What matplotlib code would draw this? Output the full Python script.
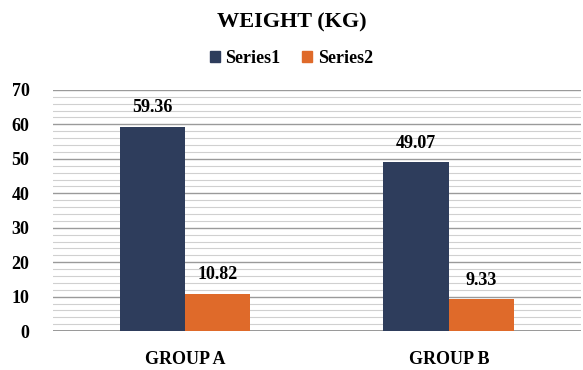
import matplotlib
matplotlib.use("Agg")
import matplotlib.pyplot as plt
from matplotlib.patches import Patch
import numpy as np

categories = ["GROUP A", "GROUP B"]
series1 = [59.36, 49.07]
series2 = [10.82, 9.33]
series_names = ["Series1", "Series2"]
y_ticks = [0, 10, 20, 30, 40, 50, 60, 70]

navy = "#2E3D5C"
orange = "#DF6A2A"

plt.rcParams["font.family"] = ["Liberation Serif", "DejaVu Serif"]
plt.rcParams["font.weight"] = "bold"

fig = plt.figure(figsize=(5.83, 3.70), dpi=100)
ax = fig.add_axes([0.091, 0.105, 0.905, 0.652])

x = np.arange(len(categories))
w = 0.248
b1 = ax.bar(x - w / 2, series1, width=w, color=navy, zorder=3)
b2 = ax.bar(x + w / 2, series2, width=w, color=orange, zorder=3)

for bars, vals in ((b1, series1), (b2, series2)):
    for rect, v in zip(bars, vals):
        ax.text(rect.get_x() + rect.get_width() / 2, v + 5.5, f"{v:.2f}",
                ha="center", va="center", fontsize=13, fontweight="bold")

ax.set_xlim(-0.5, 1.5)
ax.set_ylim(0, 70)
ax.set_yticks(y_ticks)
ax.set_yticks(np.arange(0, 71, 2), minor=True)
ax.grid(axis="y", which="major", color="#9a9a9a", linewidth=1.0, zorder=0)
ax.grid(axis="y", which="minor", color="#d0d0d0", linewidth=0.8, zorder=0)
ax.axhline(0, color="#8a8a8a", linewidth=1.2, zorder=2)
for s in ax.spines.values():
    s.set_visible(False)
ax.tick_params(axis="both", which="both", length=0)
ax.tick_params(axis="y", pad=17, labelsize=13)
ax.tick_params(axis="x", pad=14, labelsize=13)
ax.set_xticks(x)
ax.set_xticklabels(categories)
for lbl in ax.get_xticklabels() + ax.get_yticklabels():
    lbl.set_fontweight("bold")

fig.text(0.5, 0.938, "WEIGHT (KG)", ha="center", va="center",
         fontsize=16, fontweight="bold")
handles = [Patch(color=navy, label=series_names[0]),
           Patch(color=orange, label=series_names[1])]
fig.legend(handles=handles, loc="center", bbox_to_anchor=(0.5, 0.843), ncol=2,
           frameon=False, handlelength=0.55, handleheight=0.55,
           handletextpad=0.3, columnspacing=1.2,
           prop={"weight": "bold", "size": 13})

fig.savefig("out.png", dpi=100)
